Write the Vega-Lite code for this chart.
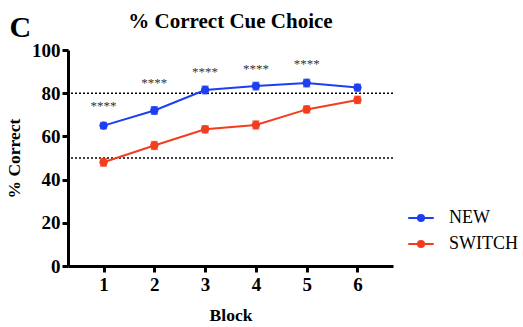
{
  "$schema": "https://vega.github.io/schema/vega-lite/v6.json",
  "autosize": "pad",
  "padding": {"left": 5, "top": 11, "right": 0, "bottom": 0},
  "background": "white",
  "spacing": 0,
  "title": {
    "text": "C",
    "anchor": "start",
    "frame": "bounds",
    "font": "Liberation Serif",
    "fontSize": 30,
    "fontWeight": "bold",
    "color": "black",
    "offset": -32,
    "dx": 4
  },
  "config": {
    "view": {"stroke": null},
    "font": "Liberation Serif",
    "axis": {
      "domainColor": "black",
      "domainWidth": 3,
      "tickColor": "black",
      "tickWidth": 3,
      "tickSize": 6,
      "labelFont": "Liberation Serif",
      "labelFontWeight": "bold",
      "labelFontSize": 19,
      "labelColor": "black",
      "titleFont": "Liberation Serif",
      "titleFontWeight": "bold",
      "titleFontSize": 17.5,
      "titleColor": "black",
      "grid": false
    },
    "legend": {
      "labelFont": "Liberation Serif",
      "labelFontSize": 18,
      "labelColor": "black",
      "symbolOpacity": 1
    }
  },
  "datasets": {
    "scores": [
      {"block": 1, "group": "NEW", "pct": 65.0, "sem": 1.3},
      {"block": 2, "group": "NEW", "pct": 72.0, "sem": 1.6},
      {"block": 3, "group": "NEW", "pct": 81.5, "sem": 1.6},
      {"block": 4, "group": "NEW", "pct": 83.3, "sem": 1.6},
      {"block": 5, "group": "NEW", "pct": 84.7, "sem": 1.6},
      {"block": 6, "group": "NEW", "pct": 82.6, "sem": 1.4},
      {"block": 1, "group": "SWITCH", "pct": 48.0, "sem": 1.6},
      {"block": 2, "group": "SWITCH", "pct": 55.8, "sem": 1.7},
      {"block": 3, "group": "SWITCH", "pct": 63.3, "sem": 1.5},
      {"block": 4, "group": "SWITCH", "pct": 65.3, "sem": 1.7},
      {"block": 5, "group": "SWITCH", "pct": 72.5, "sem": 1.5},
      {"block": 6, "group": "SWITCH", "pct": 76.9, "sem": 1.5}
    ],
    "stars": [
      {"block": 1, "pos": 74.0, "label": "****"},
      {"block": 2, "pos": 84.5, "label": "****"},
      {"block": 3, "pos": 89.6, "label": "****"},
      {"block": 4, "pos": 91.4, "label": "****"},
      {"block": 5, "pos": 93.3, "label": "****"}
    ],
    "chance": [
      {"level": 80},
      {"level": 50}
    ]
  },
  "vconcat": [
    {
      "width": 325,
      "height": 216,
      "title": {
        "text": "% Correct Cue Choice",
        "font": "Liberation Serif",
        "fontSize": 21,
        "fontWeight": "bold",
        "color": "black",
        "anchor": "middle",
        "offset": 9
      },
      "layer": [
        {
          "data": {"name": "chance"},
          "mark": {"type": "rule", "color": "black", "strokeWidth": 1.5, "strokeDash": [2, 2]},
          "encoding": {
            "y": {"field": "level", "type": "quantitative", "title": "% Correct", "scale": {"domain": [0, 100]}}
          }
        },
        {
          "data": {"name": "scores"},
          "mark": {"type": "errorbar", "ticks": {"size": 7}, "thickness": 2},
          "encoding": {
            "x": {"field": "block", "type": "quantitative", "title": "Block"},
            "y": {"field": "pct", "type": "quantitative", "title": "% Correct"},
            "yError": {"field": "sem"},
            "color": {"field": "group", "type": "nominal"}
          }
        },
        {
          "data": {"name": "scores"},
          "mark": {"type": "line", "strokeWidth": 2},
          "encoding": {
            "x": {"field": "block", "type": "quantitative", "title": "Block"},
            "y": {"field": "pct", "type": "quantitative", "title": "% Correct"},
            "color": {"field": "group", "type": "nominal"}
          }
        },
        {
          "data": {"name": "scores"},
          "mark": {"type": "point", "filled": true, "shape": "circle", "size": 70, "opacity": 1},
          "encoding": {
            "x": {
              "field": "block",
              "type": "quantitative",
              "title": "Block",
              "scale": {"domain": [0.3, 6.7], "nice": false, "zero": false},
              "axis": {"values": [1, 2, 3, 4, 5, 6], "format": "d", "titlePadding": 12, "labelPadding": 3}
            },
            "y": {
              "field": "pct",
              "type": "quantitative",
              "title": "% Correct",
              "scale": {"domain": [0, 100], "nice": false},
              "axis": {"values": [0, 20, 40, 60, 80, 100], "titlePadding": 8}
            },
            "color": {
              "field": "group",
              "type": "nominal",
              "scale": {"domain": ["NEW", "SWITCH"], "range": ["#1d3ff2", "#f23d1e"]},
              "legend": {
                "title": null,
                "orient": "none",
                "legendX": 339,
                "legendY": 154,
                "symbolType": "M-1,0L1,0M-0.24,0A0.24,0.24 0 1,1 0.24,0A0.24,0.24 0 1,1 -0.24,0",
                "symbolSize": 650,
                "symbolStrokeWidth": 2,
                "symbolOpacity": 1,
                "labelFont": "Liberation Serif",
                "labelFontSize": 18,
                "labelFontWeight": "normal",
                "labelColor": "black",
                "labelOffset": 14,
                "rowPadding": 3,
                "encode": {
                  "symbols": {
                    "update": {
                      "fill": {"scale": "color", "field": "value"},
                      "stroke": {"scale": "color", "field": "value"},
                      "opacity": {"value": 1},
                      "fillOpacity": {"value": 1},
                      "strokeOpacity": {"value": 1}
                    }
                  }
                }
              }
            }
          }
        },
        {
          "data": {"name": "stars"},
          "mark": {"type": "text", "font": "Liberation Serif", "fontSize": 13, "color": "#333333", "baseline": "middle"},
          "encoding": {
            "x": {"field": "block", "type": "quantitative"},
            "y": {"field": "pos", "type": "quantitative"},
            "text": {"field": "label"}
          }
        }
      ]
    }
  ]
}
